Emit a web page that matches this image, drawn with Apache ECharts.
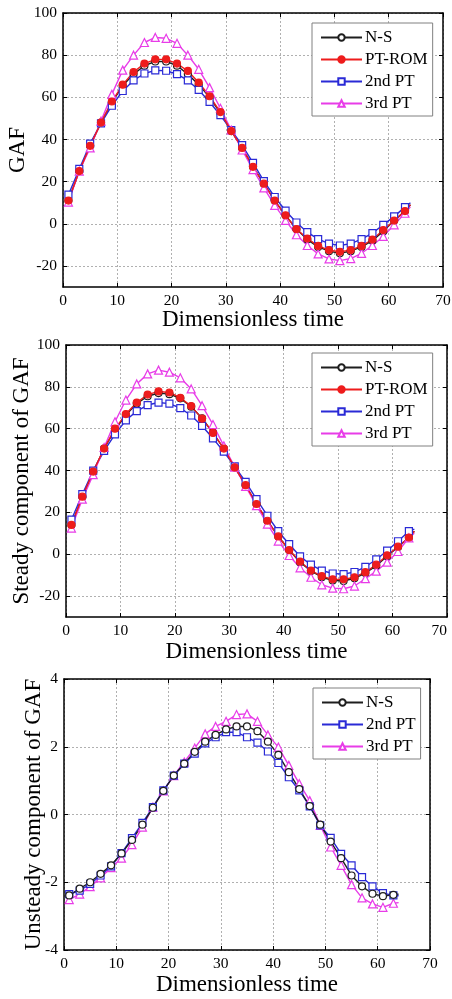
<!DOCTYPE html>
<html><head><meta charset="utf-8">
<script src="https://cdn.jsdelivr.net/npm/echarts@6/dist/echarts.min.js"></script>
<style>html,body{margin:0;padding:0;background:#fff}#c{width:452px;height:999px}</style>
</head><body><div id="c"></div>
<script>
// Time points (markers at odd points; last point 64 without marker)
var tPts = [1,3,5,7,9,11,13,15,17,19,21,23,25,27,29,31,33,35,37,39,41,43,45,47,49,51,53,55,57,59,61,63,64];
var xTicks = [0,10,20,30,40,50,60,70];
var gafTicks = [-20,0,20,40,60,80,100];
var unTicks = [-4,-2,0,2,4];
var seriesNames = ['N-S','PT-ROM','2nd PT','3rd PT'];

// Panel 1: GAF
var gafNS    = [11,25,37,48,57.5,65.5,71,75,77,77,75,71,66,60,52.5,44,36,27,19,11,4,-2.5,-7.5,-11,-13,-14,-13,-11,-8,-3.5,1.5,6,9];
var gafROM   = [11,25,37,48,58,66,72,76,78,78,76,72.5,67,60.5,53,44,36,27,19,11,4,-2.5,-7,-10.5,-12.5,-13.3,-12.5,-10.5,-7.5,-3,1.5,6,9];
var gafPT2   = [13.8,26,38,47.6,56,63,68,71.3,72.8,72.6,71,68,63.5,57.8,51.5,44.4,37.3,28.9,20.2,12.7,6.2,0.6,-4,-7.3,-9.4,-10.3,-9.4,-7.3,-4.4,-0.5,3.5,7.9,10];
var gafPT3   = [10.3,25,36,48.7,61.4,72.9,80,86,88.4,88,85.6,80,73.3,64.6,54.8,44.5,35,25.7,17,8.7,1.6,-5.2,-10.3,-14.3,-16.7,-17.5,-16.5,-14,-10.3,-6,-0.5,5,8];

// Panel 2: Steady component of GAF
var stNS     = [14,27.5,39.5,50.5,59.5,66.5,72,75.5,77,76.5,74.5,70.5,65,58,50.5,41.5,33,24,16,8.5,2,-3.8,-8,-11,-12.5,-12.8,-11.5,-9,-5.5,-1,3.5,8,11];
var stROM    = [14,27.5,39.5,50.5,60,67,72.5,76.3,77.8,77.3,74.8,70.8,64.8,58,50.5,41.5,33,24,16,8.5,2,-3.5,-7.8,-10.5,-12,-12,-11,-8.6,-5,-0.5,3.6,8,11];
var stPT2    = [16.5,28.7,40,49.4,57.3,64,68.4,71.3,72.5,72,69.8,66.3,61.3,55.4,49,42,34.6,26.3,18.4,11,4.8,-1,-5,-7.8,-9.2,-9.5,-8.5,-6,-2.5,1.7,6.2,11,12];
var stPT3    = [12.5,26.3,38,51,63.3,73.7,81.4,86.2,88,87,84.3,79,71,62,51.8,41.6,32.4,23.2,14.4,6.3,-0.6,-6.5,-11,-14.6,-16.2,-16.5,-15.2,-11.7,-8.1,-3.8,1.3,7.8,10];

// Panel 3: Unsteady component of GAF
var unNS     = [-2.39,-2.19,-2.0,-1.75,-1.5,-1.15,-0.75,-0.3,0.2,0.7,1.15,1.5,1.85,2.15,2.35,2.51,2.6,2.6,2.46,2.15,1.76,1.25,0.75,0.25,-0.3,-0.8,-1.29,-1.8,-2.12,-2.34,-2.41,-2.37,-2.35];
var unPT2    = [-2.35,-2.25,-2.05,-1.8,-1.53,-1.14,-0.7,-0.25,0.22,0.71,1.15,1.5,1.8,2.1,2.28,2.43,2.43,2.28,2.12,1.86,1.52,1.1,0.71,0.24,-0.32,-0.69,-1.16,-1.5,-1.85,-2.12,-2.32,-2.39,-2.4];
var unPT3    = [-2.51,-2.35,-2.13,-1.87,-1.57,-1.29,-0.89,-0.37,0.22,0.7,1.15,1.55,1.96,2.38,2.6,2.75,2.95,2.97,2.75,2.35,1.99,1.45,0.91,0.41,-0.32,-0.96,-1.5,-2.07,-2.46,-2.64,-2.74,-2.62,-2.6];

var FONT = 'Liberation Serif';
var colors = {'N-S':'#1e1e1e','PT-ROM':'#ee1c1c','2nd PT':'#2a2ad6','3rd PT':'#e83ce8'};
var symbols = {'N-S':'circle','PT-ROM':'circle','2nd PT':'rect','3rd PT':'triangle'};
var filled = {'N-S':false,'PT-ROM':true,'2nd PT':false,'3rd PT':false};

var grids = [
  {left:63, top:13, width:380, height:274, outerBoundsMode:'none', containLabel:false},
  {left:66, top:345, width:381, height:272, outerBoundsMode:'none', containLabel:false},
  {left:64, top:679, width:366, height:271, outerBoundsMode:'none', containLabel:false}
];
var yCfg = [
  {min:-30,max:100,ticks:gafTicks,name:'GAF',gap:33.5},
  {min:-30,max:100,ticks:gafTicks,name:'Steady component of GAF',gap:32.5},
  {min:-4,max:4,ticks:unTicks,name:'Unsteady component of GAF',gap:18.5}
];
var xGaps = [21.5,23,23.5];
var alignMax = [null,'right',null];

var tickStyle = function(vals){ return {show:true,inside:true,length:4,customValues:vals,lineStyle:{color:'#000'}}; };
var gridLine = {show:true,lineStyle:{color:'#b0b0b0',type:[2,2],width:1}};

var xAxes=[], yAxes=[];
grids.forEach(function(g,i){
  var xl = {fontFamily:FONT,fontSize:15.5,color:'#000',margin:6,customValues:xTicks};
  if (alignMax[i]) xl.alignMaxLabel = alignMax[i];
  xAxes.push({gridIndex:i,type:'value',min:0,max:70,interval:10,position:'bottom',
    name:'Dimensionless time',nameLocation:'middle',nameGap:xGaps[i],nameMoveOverlap:false,
    nameTextStyle:{fontFamily:FONT,fontSize:23,color:'#000'},
    axisLine:{show:true,onZero:false,lineStyle:{color:'#000',width:1.5}},
    axisTick:tickStyle(xTicks),
    axisLabel:xl,
    splitLine:gridLine});
  xAxes.push({gridIndex:i,type:'value',min:0,max:70,interval:10,position:'top',
    axisLine:{show:true,onZero:false,lineStyle:{color:'#000',width:1.5}},
    axisTick:tickStyle(xTicks),
    axisLabel:{show:false},splitLine:{show:false}});
  var yc = yCfg[i];
  yAxes.push({gridIndex:i,type:'value',min:yc.min,max:yc.max,position:'left',
    name:yc.name,nameLocation:'middle',nameGap:yc.gap,nameMoveOverlap:false,
    nameTextStyle:{fontFamily:FONT,fontSize:23,color:'#000'},
    axisLine:{show:true,onZero:false,lineStyle:{color:'#000',width:1.5}},
    axisTick:tickStyle(yc.ticks),
    axisLabel:{fontFamily:FONT,fontSize:15.5,color:'#000',margin:6,customValues:yc.ticks},
    splitLine:gridLine});
  yAxes.push({gridIndex:i,type:'value',min:yc.min,max:yc.max,position:'right',
    axisLine:{show:true,onZero:false,lineStyle:{color:'#000',width:1.5}},
    axisTick:tickStyle(yc.ticks),
    axisLabel:{show:false},splitLine:{show:false}});
});

function mk(name, vals, gi){
  return {
    type:'line', name:name, xAxisIndex:gi*2, yAxisIndex:gi*2,
    data: tPts.map(function(t,k){return [t, vals[k]];}),
    symbol: symbols[name],
    symbolSize: function(v){ return v[0]===64 ? 0 : (name==='3rd PT'?8:7); },
    showAllSymbol:true,
    lineStyle:{color:colors[name],width:1.4},
    itemStyle:{color: filled[name]?colors[name]:'#fff', borderColor:colors[name], borderWidth:1.2},
    emphasis:{disabled:true}, animation:false
  };
}

var panelData = [
  [['N-S',gafNS],['2nd PT',gafPT2],['3rd PT',gafPT3],['PT-ROM',gafROM]],
  [['N-S',stNS],['2nd PT',stPT2],['3rd PT',stPT3],['PT-ROM',stROM]],
  [['3rd PT',unPT3],['2nd PT',unPT2],['N-S',unNS]]
];
var series=[];
panelData.forEach(function(p,gi){
  p.forEach(function(s){ series.push(mk(s[0],s[1],gi)); });
});

function legend(left, top, names){
  return {left:left, top:top, orient:'vertical', data:names, itemWidth:41, itemHeight:8, itemGap:5,
    padding:[6,5,4,8], borderColor:'#808080', borderWidth:1, backgroundColor:'#fff',
    textStyle:{fontFamily:FONT,fontSize:17,color:'#000',padding:[0,0,0,-2]}, selectedMode:false};
}

var chart = echarts.init(document.getElementById('c'), null, {renderer:'canvas'});
chart.setOption({
  animation:false,
  grid:grids,
  xAxis:xAxes, yAxis:yAxes,
  legend:[
    legend(312,23,['N-S','PT-ROM','2nd PT','3rd PT']),
    legend(312,353,['N-S','PT-ROM','2nd PT','3rd PT']),
    legend(313,688,['N-S','2nd PT','3rd PT'])
  ],
  series:series
});
</script></body></html>
